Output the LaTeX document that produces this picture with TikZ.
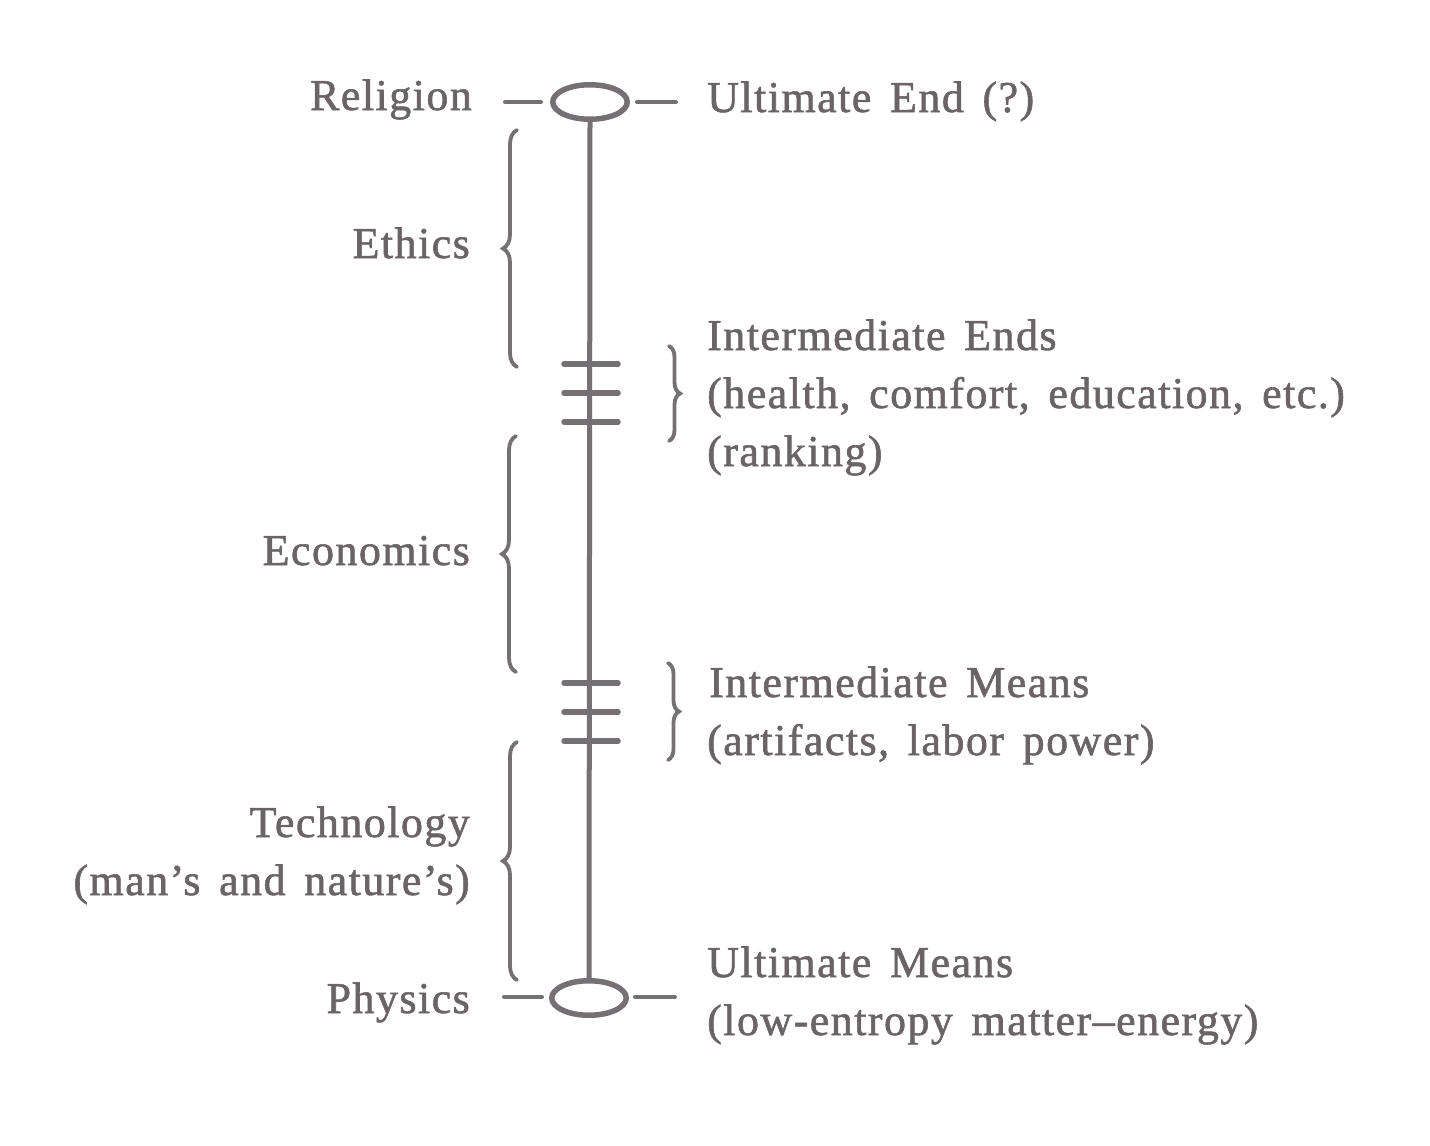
\documentclass[tikz,border=0pt]{standalone}
\usepackage{fontspec}
\setmainfont{Liberation Serif}[LetterSpace=3.3,WordSpace=1.5,FakeBold=1.3]
\usetikzlibrary{shapes.geometric,decorations.pathreplacing}
\definecolor{ink}{HTML}{6A6467}
\definecolor{lineink}{HTML}{757073}
\begin{document}
\begin{tikzpicture}[x=1pt,y=-1pt,
  lbl/.style={text=ink,inner sep=0pt,font=\fontsize{44}{58}\selectfont},
  rlbl/.style={lbl,anchor=base east},
  llbl/.style={lbl,anchor=base west},
  stem/.style={draw=lineink,line width=5pt},
  rung/.style={draw=lineink,line width=5.5pt,line cap=round},
  ring/.style={draw=lineink,line width=5.5pt,ellipse,minimum width=74.5pt,minimum height=34.5pt,inner sep=0pt},
  tickln/.style={draw=lineink,line width=4pt,line cap=round},
  brc/.style={draw=lineink,line width=3.8pt,line cap=round,decorate,decoration={brace,amplitude=#1pt}}
]
\fill[white] (0,0) rectangle (1430,1146);
\useasboundingbox (0,0) rectangle (1430,1146);

% rings and stem
\node[ring] (top) at (590,102) {};
\node[ring] (bot) at (589,998) {};
\draw[stem] (top.south) -- (bot.north);

% side dashes
\coordinate (tl1) at (505,102); \coordinate (tl2) at (541,102);
\coordinate (tr1) at (637,102); \coordinate (tr2) at (676,102);
\coordinate (bl1) at (504,997); \coordinate (bl2) at (542,997);
\coordinate (br1) at (635,997); \coordinate (br2) at (675,997);
\draw[tickln] (tl1) -- (tl2);
\draw[tickln] (tr1) -- (tr2);
\draw[tickln] (bl1) -- (bl2);
\draw[tickln] (br1) -- (br2);

% rungs
\foreach \y [count=\i] in {364,393,422,683,712,741}{
  \coordinate (ra\i) at (564,\y);
  \coordinate (rb\i) at (618,\y);
  \draw[rung] (ra\i) -- (rb\i);
}

% left braces (tip pointing left)
\coordinate (e1) at (517,367); \coordinate (e2) at (517,130);
\coordinate (c1) at (516,672); \coordinate (c2) at (516,436);
\coordinate (t1) at (517,980); \coordinate (t2) at (517,742);
\draw[brc=14] (e1) -- (e2);
\draw[brc=14] (c1) -- (c2);
\draw[brc=14] (t1) -- (t2);

% right braces (tip pointing right)
\coordinate (ie1) at (669,346); \coordinate (ie2) at (669,441);
\coordinate (im1) at (668,663); \coordinate (im2) at (668,760);
\draw[brc=11] (ie1) -- (ie2);
\draw[brc=11] (im1) -- (im2);

% left labels
\node[rlbl] (religion) at (472,110) {Religion};
\node[rlbl] (ethics) at (470,258) {Ethics};
\node[rlbl] (economics) at (470,565) {Economics};
\node[rlbl] (technology) at (470,837) {Technology};
\node[rlbl] (mans) at (470,895) {(man’s and nature’s)};
\node[rlbl] (physics) at (470,1013) {Physics};

% right labels
\node[llbl] (ultend) at (707,112) {Ultimate End (?)};
\node[llbl] (intends) at (707,350) {Intermediate Ends};
\node[llbl] (health) at (707,408) {(health, comfort, education, etc.)};
\node[llbl] (ranking) at (707,466) {(ranking)};
\node[llbl] (intmeans) at (709,697) {Intermediate Means};
\node[llbl] (artifacts) at (707,755) {(artifacts, labor power)};
\node[llbl] (ultmeans) at (707,977) {Ultimate Means};
\node[llbl] (lowent) at (707,1035) {(low-entropy matter–energy)};
\end{tikzpicture}
\end{document}
